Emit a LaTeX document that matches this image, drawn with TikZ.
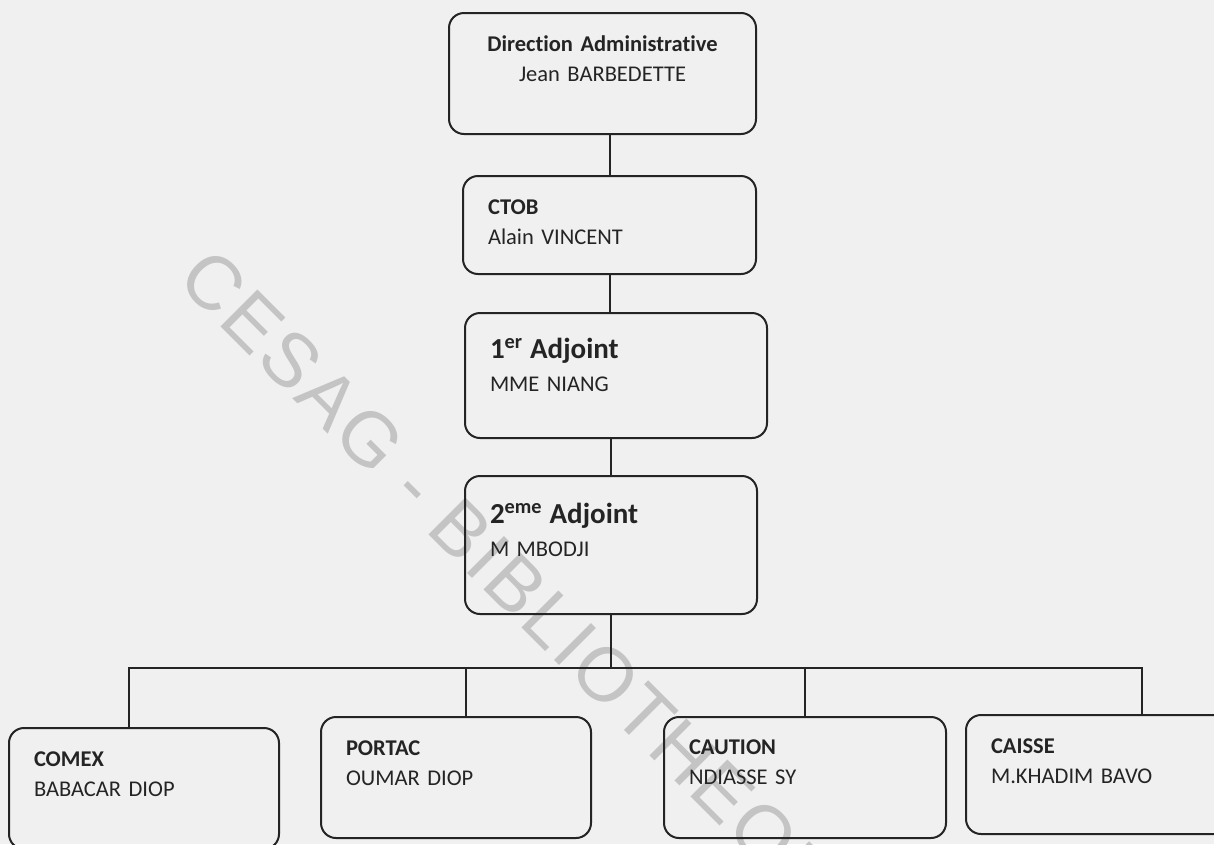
\documentclass[tikz,border=0pt]{standalone}
\usepackage{fontspec}
\setmainfont{Carlito}[Ligatures=NoCommon,WordSpace=0.8]
\newfontfamily\stampfont{Liberation Sans}[LetterSpace=4]
\definecolor{paper}{RGB}{240,240,240}
\definecolor{ink}{RGB}{36,36,36}
\definecolor{stampgray}{RGB}{196,196,196}
\newcommand\bigtitle{\fontsize{29}{33}\selectfont\bfseries}

\begin{document}
\begin{tikzpicture}[x=1pt,y=-1pt,line width=2pt,color=ink,
    post/.style={draw,rounded corners=15pt,anchor=north west,inner xsep=25pt,inner ysep=0pt,
      align=left,font=\fontsize{22.5}{30}\selectfont,text height=38pt}]
	\fill[paper] (0,0) rectangle (1214,844);
	\useasboundingbox (0,0) rectangle (1214,844);
	\clip (0,0) rectangle (1214,844);
	% watermark of the scan
	\node[rotate=-45,anchor=base west,inner sep=0pt,text=stampgray,
	  font=\stampfont\fontsize{76}{76}\selectfont] (stamp) at (175,281) {CESAG - BIBLIOTHEQUE};
	% chain of command
	\node[post,align=center,text width=257pt,text depth=83pt] (dir) at (448,12)
	  {\textbf{Direction Administrative}\\Jean BARBEDETTE};
	\node[post,text width=243pt,text depth=60pt] (ctob) at (462,175)
	  {\textbf{CTOB}\\Alain VINCENT};
	\node[post,text width=252pt,text height=45pt,text depth=80pt] (adj1) at (464,312)
	  {{\bigtitle 1\textsuperscript{er} Adjoint}\\[3pt]MME NIANG};
	\node[post,text width=242pt,text height=47pt,text depth=91pt] (adj2) at (464,475)
	  {{\bigtitle 2\textsuperscript{eme} Adjoint}\\[3pt]M MBODJI};
	% services
	\node[post,text width=220pt,text depth=83pt] (comex) at (8,727)
	  {\textbf{COMEX}\\BABACAR DIOP};
	\node[post,text width=220pt,text depth=83pt] (portac) at (320,716)
	  {\textbf{PORTAC}\\OUMAR DIOP};
	\node[post,text width=232pt,text height=37pt,text depth=84pt] (caution) at (663,716)
	  {\textbf{CAUTION}\\NDIASSE SY};
	\node[post,text width=230pt,text depth=81pt] (caisse) at (965,714)
	  {\textbf{CAISSE}\\M.KHADIM BAVO};
	% links
	\draw (dir.south -| ctob.north) -- (ctob.north);
	\draw (ctob.south) -- (ctob.south |- adj1.north);
	\draw (adj2.north |- adj1.south) -- (adj2.north);
	\draw (adj2.south) -- ++(0,53) coordinate (bus);
	\draw ([xshift=-15pt]comex.north) |- (bus) -| ([xshift=36pt]caisse.north);
	\draw ([xshift=10pt]portac.north) |- (bus);
	\draw (caution.north) |- (bus);
\end{tikzpicture}
\end{document}
